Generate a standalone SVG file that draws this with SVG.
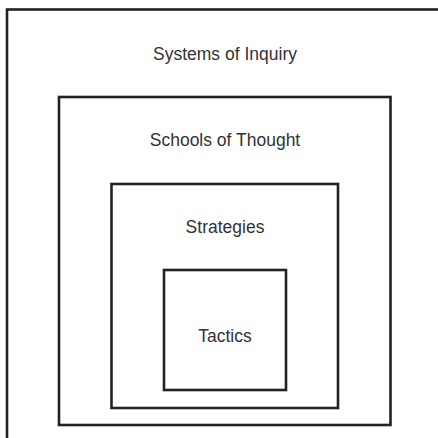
<svg xmlns="http://www.w3.org/2000/svg" width="438" height="438" viewBox="0 0 438 438">
<style>
.box{fill:none;stroke:#222;stroke-width:2.6}
.lbl{font-family:"Liberation Sans",Arial,sans-serif;font-size:17.5px;fill:#333;text-anchor:middle}
</style>
<rect width="438" height="438" fill="#fff"/>
<g id="systems-of-inquiry">
<rect class="box" x="7" y="9.5" width="445" height="445"/>
<text class="lbl" x="225" y="60">Systems of Inquiry</text>
</g>
<g id="schools-of-thought">
<rect class="box" x="59" y="97" width="331.5" height="328"/>
<text class="lbl" x="225" y="146">Schools of Thought</text>
</g>
<g id="strategies">
<rect class="box" x="111.5" y="184" width="226.5" height="224"/>
<text class="lbl" x="225" y="233">Strategies</text>
</g>
<g id="tactics">
<rect class="box" x="164" y="270" width="122" height="120"/>
<text class="lbl" x="225" y="342">Tactics</text>
</g>
<g id="connectors"/>
</svg>
